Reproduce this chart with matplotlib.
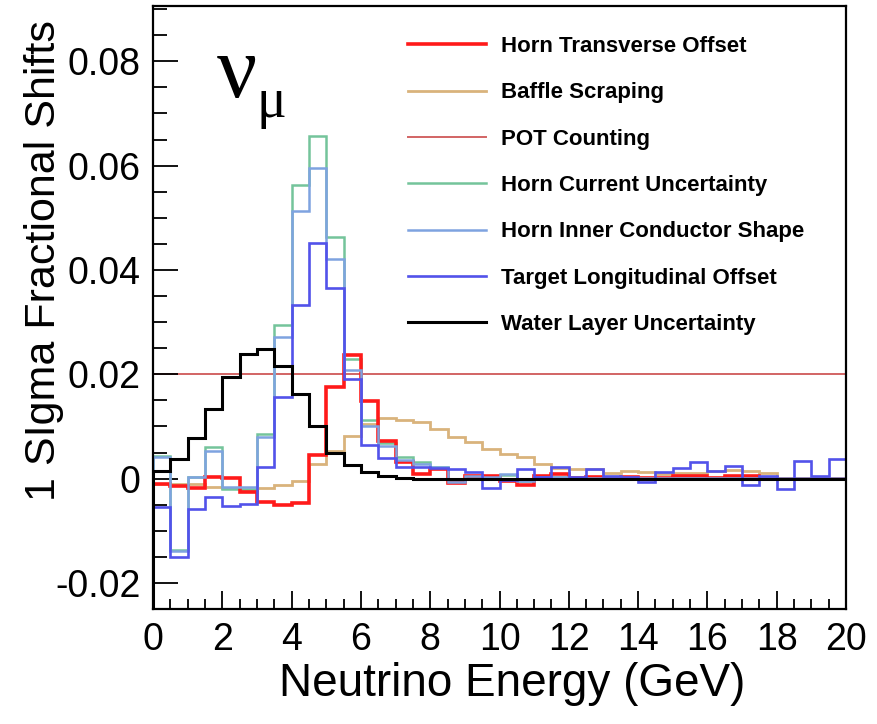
import numpy as np
import matplotlib
matplotlib.use("Agg")
import matplotlib.pyplot as plt
from matplotlib.ticker import MultipleLocator, FixedLocator, FixedFormatter

plt.rcParams['font.family'] = ['Liberation Sans', 'DejaVu Sans']

# ---------------- data ----------------
energy_min, energy_max, n_bins = 0.0, 20.0, 40

horn_transverse = [-0.0010, -0.0015, -0.0018, 0.0003, 0.0002, -0.0026, -0.0044, -0.0050,
                   -0.0046, 0.0045, 0.0176, 0.0236, 0.0148, 0.0072, 0.0031, 0.0009,
                   0.0019, -0.0008, 0.0005, 0.0005, -0.0004, -0.0013, 0.0005, 0.0008,
                   0.0002, 0.0003, 0.0002, 0.0003, 0.0001, 0.0002, 0.0005, 0.0005,
                   0.0002, 0.0005, 0.0005, 0.0002, 0.0000, 0.0000, 0.0000, 0.0000]

baffle_scraping = [-0.0010, -0.0010, -0.0010, -0.0017, -0.0018, -0.0022, -0.0018, -0.0013,
                   -0.0004, 0.0028, 0.0052, 0.0081, 0.0105, 0.0116, 0.0113, 0.0109,
                   0.0095, 0.0079, 0.0070, 0.0057, 0.0047, 0.0041, 0.0028, 0.0020,
                   0.0019, 0.0019, 0.0011, 0.0015, 0.0012, 0.0008, 0.0011, 0.0011,
                   0.0014, 0.0017, 0.0014, 0.0011, 0.0000, 0.0000, 0.0000, 0.0000]

pot_counting = [0.02] * 40

horn_current = [0.0043, -0.0137, 0.0004, 0.0060, -0.0019, -0.0019, 0.0086, 0.0294,
                0.0563, 0.0656, 0.0464, 0.0230, 0.0112, 0.0068, 0.0041, 0.0031,
                0.0023, -0.0005, 0.0005, 0.0005, 0.0006, -0.0004, 0.0004, 0.0003,
                0.0002, 0.0002, 0.0001, 0.0002, 0.0001, 0.0002, 0.0001, 0.0002,
                0.0001, 0.0002, 0.0001, 0.0001, 0.0001, 0.0001, 0.0001, 0.0001]

horn_inner_conductor = [0.0041, -0.0139, 0.0003, 0.0053, -0.0017, -0.0017, 0.0080, 0.0272,
                        0.0513, 0.0596, 0.0421, 0.0208, 0.0101, 0.0063, 0.0036, 0.0028,
                        0.0022, -0.0006, 0.0005, 0.0004, 0.0008, -0.0005, 0.0004, 0.0003,
                        0.0002, 0.0002, 0.0001, 0.0002, 0.0001, 0.0002, 0.0001, 0.0002,
                        0.0001, 0.0002, 0.0001, 0.0001, 0.0001, 0.0001, 0.0001, 0.0001]

target_longitudinal = [-0.0055, -0.0150, -0.0058, -0.0036, -0.0052, -0.0048, 0.0022, 0.0156,
                       0.0333, 0.0452, 0.0366, 0.0190, 0.0064, 0.0039, 0.0022, 0.0022,
                       0.0020, 0.0019, 0.0013, -0.0018, -0.0003, 0.0018, 0.0004, 0.0022,
                       0.0004, 0.0018, 0.0005, 0.0004, -0.0006, 0.0012, 0.0021, 0.0031,
                       0.0015, 0.0025, -0.0012, 0.0005, -0.0020, 0.0034, 0.0005, 0.0038]

water_layer = [0.0015, 0.0038, 0.0077, 0.0133, 0.0194, 0.0238, 0.0248, 0.0215,
               0.0162, 0.0100, 0.0050, 0.0027, 0.0012, 0.0005, 0.0002, 0.0000,
               0.0000, 0.0000, 0.0000, 0.0000, 0.0000, 0.0000, 0.0000, 0.0000,
               0.0000, 0.0000, 0.0000, 0.0000, 0.0000, 0.0000, 0.0000, 0.0000,
               0.0000, 0.0000, 0.0000, 0.0000, 0.0000, 0.0000, 0.0000, 0.0000]

series_labels = ["Horn Transverse Offset", "Baffle Scraping", "POT Counting",
                 "Horn Current Uncertainty", "Horn Inner Conductor Shape",
                 "Target Longitudinal Offset", "Water Layer Uncertainty"]

x_ticks = [0, 2, 4, 6, 8, 10, 12, 14, 16, 18, 20]
x_tick_labels = ["0", "2", "4", "6", "8", "10", "12", "14", "16", "18", "20"]
y_ticks = [-0.02, 0.0, 0.02, 0.04, 0.06, 0.08]
y_tick_labels = ["-0.02", "0", "0.02", "0.04", "0.06", "0.08"]

# ---------------- styling ----------------
series = [horn_transverse, baffle_scraping, pot_counting, horn_current,
          horn_inner_conductor, target_longitudinal, water_layer]
colors = ["#ff1a1a", "#d9b37c", "#d26464", "#74c49b", "#7ea3e0", "#5252ea", "#000000"]
widths = [2.6, 2.0, 1.4, 1.8, 1.8, 1.9, 2.2]
zorders = [4, 2, 1, 3, 5, 6, 7]

ymin, ymax = -0.025, 0.0906
bin_edges = np.linspace(energy_min, energy_max, n_bins + 1)

fig = plt.figure(figsize=(8.77, 7.24), dpi=100)
ax = fig.add_axes([153 / 877, 1 - 609 / 724, (846 - 153) / 877, (609 - 6) / 724])

handles = []
for vals, c, lw, z, lab in zip(series, colors, widths, zorders, series_labels):
    ax.stairs(vals, bin_edges, baseline=None, color=c, linewidth=lw, zorder=z)
    # ROOT-style drop of the outline to the frame bottom at the first bin edge
    ax.vlines(bin_edges[0], ymin, vals[0], color=c, linewidth=lw, zorder=z)
    handles.append(plt.Line2D([], [], color=c, linewidth=lw))

ax.set_xlim(energy_min, energy_max)
ax.set_ylim(ymin, ymax)

ax.xaxis.set_major_locator(FixedLocator(x_ticks))
ax.xaxis.set_major_formatter(FixedFormatter(x_tick_labels))
ax.xaxis.set_minor_locator(MultipleLocator(0.5))
ax.yaxis.set_major_locator(FixedLocator(y_ticks))
ax.yaxis.set_major_formatter(FixedFormatter(y_tick_labels))
ax.yaxis.set_minor_locator(MultipleLocator(0.005))

ax.tick_params(axis='both', which='both', direction='in', top=False, right=False,
               colors='black', width=1.3)
ax.tick_params(axis='y', which='major', length=18, pad=9, labelsize=27)
ax.tick_params(axis='y', which='minor', length=10)
ax.tick_params(axis='x', which='major', length=13, pad=9, labelsize=27)
ax.tick_params(axis='x', which='minor', length=7)

for s in ax.spines.values():
    s.set_linewidth(1.6)
    s.set_zorder(10)

ax.set_xlabel("Neutrino Energy (GeV)", fontsize=33)
ax.xaxis.set_label_coords(0.518, -0.088)
ax.set_ylabel("1 SIgma Fractional Shifts", fontsize=31, loc='top')
ax.yaxis.set_label_coords(-0.128, 0.977)

ax.text(0.092, 0.952, "\u03bd", transform=ax.transAxes, fontsize=64,
        family=['Liberation Serif', 'DejaVu Serif'], ha='left', va='top')
ax.text(0.150, 0.882, "\u03bc", transform=ax.transAxes, fontsize=40,
        family=['Liberation Serif', 'DejaVu Serif'], ha='left', va='top')

leg = ax.legend(handles, series_labels, loc='upper left',
                bbox_to_anchor=((408 - 153) / 693, (609 - 36) / 603),
                frameon=False, prop={'weight': 'bold', 'size': 16},
                handlelength=3.5, handletextpad=0.7, labelspacing=1.14,
                borderaxespad=0, borderpad=0)
leg.set_zorder(20)

fig.savefig("out.png", dpi=100)
